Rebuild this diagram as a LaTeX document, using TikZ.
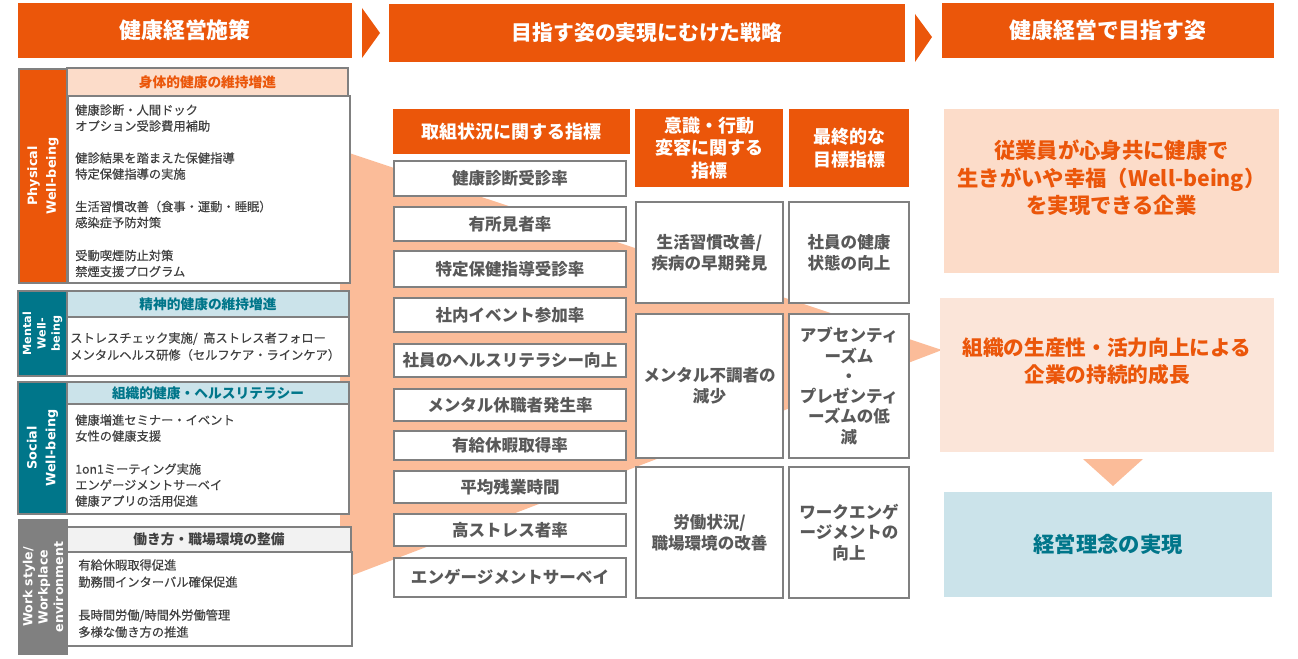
\documentclass[tikz,border=0pt]{standalone}
\usepackage{fontspec}
\setmainfont{Noto Sans CJK JP}
\newfontfamily\jpm{Noto Sans CJK JP}[FakeBold=0.35]
\newfontfamily\lat{DejaVu Sans}
\definecolor{org}{RGB}{235,86,10}
\definecolor{salmon}{RGB}{251,188,153}
\definecolor{peachA}{RGB}{252,220,201}
\definecolor{peachB}{RGB}{251,229,217}
\definecolor{lblue}{RGB}{203,227,234}
\definecolor{tealc}{RGB}{0,118,138}
\definecolor{gbord}{RGB}{128,128,128}
\definecolor{txt}{RGB}{64,64,64}
\definecolor{itxt}{RGB}{89,89,89}
\definecolor{hdrg}{RGB}{242,242,242}
\newcommand\mybox[7]{\node[#1, minimum width={(#5-#3)*0.75pt}, minimum height={(#6-#4)*0.75pt}, anchor=center] (#2) at ({(#3+#5)/2},{(#4+#6)/2}) {#7};}
\tikzset{
  bx/.style={inner sep=0pt, outer sep=0pt, align=center},
  hdr/.style={bx, fill=org, text=white, font=\fontsize{16.4}{19}\selectfont\bfseries},
  ihdr/.style={bx, fill=org, text=white, font=\fontsize{13.5}{16.9}\selectfont\bfseries},
  ind/.style={bx, draw=gbord, line width=2pt, fill=white, text=itxt, font=\fontsize{12.4}{15.6}\selectfont\bfseries},
  strip/.style={bx, draw=gbord, line width=0.9pt},
  striplbl/.style={rotate=90, inner sep=0pt, align=center, text=white, font={\lat\bfseries\fontsize{9.6}{14.2}\selectfont}},
  lhdr/.style={bx, draw=gbord, line width=0.9pt, font=\fontsize{10.3}{12}\selectfont\bfseries},
  lbody/.style={bx, draw=gbord, line width=0.9pt, fill=white},
  ltxt/.style={inner sep=0pt, anchor=west, align=left, text=txt, font=\jpm\fontsize{9.2}{12}\selectfont},
  rbox/.style={bx, draw=none},
  rtxt/.style={inner sep=0pt, align=center, font=\fontsize{16}{20.6}\selectfont\bfseries},
}
\begin{document}
\begin{tikzpicture}[x=0.75pt,y=-0.75pt]
\useasboundingbox (0,0) rectangle (1298,659);

% funnel background
\fill[salmon] (340,150) -- (942,350) -- (340,580) -- cycle;

% top headers
\mybox{hdr}{h1}{18}{3}{352}{58}{健康経営施策}
\mybox{hdr, font=\fontsize{15.6}{19}\selectfont\bfseries}{h2}{389}{4}{905}{62}{目指す姿の実現にむけた戦略}
\mybox{hdr}{h3}{942}{3}{1274}{58}{健康経営で目指す姿}
\fill[org] (362,8) -- (380,33) -- (362,58) -- cycle;
\fill[org] (915,14) -- (932,37) -- (915,62) -- cycle;

% ---- left column: Physical
\mybox{strip, fill=org}{ps}{19}{69}{67}{283}{}
\node[striplbl] (psl) at (ps.center) {Physical\\Well-being};
\mybox{lhdr, fill=peachA, text=org}{ph}{67}{68}{348}{96}{身体的健康の維持増進}
\mybox{lbody}{pb}{68}{96}{350}{283}{}
\node[ltxt] (pt1) at (75,118) {健康診断・人間ドック\\オプション受診費用補助};
\node[ltxt] (pt2) at (75,166) {健診結果を踏まえた保健指導\\特定保健指導の実施};
\node[ltxt] (pt3) at (75,214.5) {生活習慣改善（食事・運動・睡眠）\\感染症予防対策};
\node[ltxt] (pt4) at (75,263.5) {受動喫煙防止対策\\禁煙支援プログラム};

% ---- Mental
\mybox{strip, fill=tealc}{ms}{18}{291}{67}{376}{}
\node[striplbl, font={\lat\bfseries\fontsize{8.4}{10.8}\selectfont}] (msl) at (ms.center) {Mental\\Well-\\being};
\mybox{lhdr, fill=lblue, text=tealc}{mh}{67}{291}{349}{317}{精神的健康の維持増進}
\mybox{lbody}{mb}{67}{317}{349}{376}{}
\node[ltxt, font=\jpm\fontsize{9.2}{12.75}\selectfont] (mt1) at (70,346.5) {ストレスチェック実施/\ \ 高ストレス者フォロー\\メンタルヘルス研修（セルフケア・ラインケア）};

% ---- Social
\mybox{strip, fill=tealc}{ss}{18}{382}{67}{514}{}
\node[striplbl] (ssl) at (ss.center) {Social\\Well-being};
\mybox{lhdr, fill=lblue, text=tealc}{sh}{67}{382}{349}{404}{組織的健康・ヘルスリテラシー}
\mybox{lbody}{sb}{67}{404}{349}{514}{}
\node[ltxt] (st1) at (75,428) {健康増進セミナー・イベント\\女性の健康支援};
\node[ltxt] (st2) at (75,485) {1on1ミーティング実施\\エンゲージメントサーベイ\\健康アプリの活用促進};

% ---- Work style
\mybox{strip, fill=gbord}{ws}{19}{520}{67}{654}{}
\node[striplbl, font={\lat\bfseries\fontsize{9.4}{11.5}\selectfont}] (wsl) at (ws.center) {Work style/\\Workplace\\environment};
\mybox{lhdr, fill=hdrg, text=txt}{wh}{67}{527}{351}{552}{働き方・職場環境の整備}
\mybox{lbody}{wb}{67}{552}{352}{646}{}
\node[ltxt, font=\jpm\fontsize{9.2}{12.75}\selectfont] (wt1) at (78,573.5) {有給休暇取得促進\\勤務間インターバル確保促進};
\node[ltxt, font=\jpm\fontsize{9.2}{12.75}\selectfont] (wt2) at (78,623.5) {長時間労働/時間外労働管理\\多様な働き方の推進};

% ---- middle column 1
\mybox{ihdr}{ih1}{393}{109}{630}{154}{取組状況に関する指標}
\mybox{ind}{i1}{394}{161}{626}{196}{健康診断受診率}
\mybox{ind}{i2}{394}{207}{626}{241}{有所見者率}
\mybox{ind}{i3}{394}{251}{626}{287}{特定保健指導受診率}
\mybox{ind}{i4}{394}{298}{626}{332}{社内イベント参加率}
\mybox{ind}{i5}{394}{344}{626}{377}{社員のヘルスリテラシー向上}
\mybox{ind}{i6}{394}{389}{626}{421}{メンタル休職者発生率}
\mybox{ind}{i7}{394}{431}{626}{460}{有給休暇取得率}
\mybox{ind}{i8}{394}{471}{626}{503}{平均残業時間}
\mybox{ind}{i9}{394}{514}{626}{546}{高ストレス者率}
\mybox{ind}{i10}{394}{558}{626}{597}{エンゲージメントサーベイ}

% ---- middle columns 2 and 3
\mybox{ihdr}{ih2}{635}{109}{783}{187}{意識・行動\\変容に関する\\指標}
\mybox{ihdr}{ih3}{789}{109}{909}{187}{最終的な\\目標指標}
\mybox{ind, font=\fontsize{12.4}{15.5}\selectfont\bfseries}{ca}{636}{202}{783}{303}{生活習慣改善/\\疾病の早期発見}
\mybox{ind, font=\fontsize{12.4}{15.5}\selectfont\bfseries}{cb}{636}{314}{783}{458}{メンタル不調者の\\減少}
\mybox{ind, font=\fontsize{12.4}{15.5}\selectfont\bfseries}{cc}{636}{467}{783}{598}{労働状況/\\職場環境の改善}
\mybox{ind, font=\fontsize{12.4}{15.5}\selectfont\bfseries}{cd}{789}{202}{909}{303}{社員の健康\\状態の向上}
\mybox{ind, font=\fontsize{12.4}{15.2}\selectfont\bfseries}{ce}{789}{314}{909}{458}{アブセンティ\\ーズム\\・\\プレゼンティ\\ーズムの低\\減}
\mybox{ind, font=\fontsize{12.4}{15.2}\selectfont\bfseries}{cf}{789}{467}{909}{598}{ワークエンゲ\\ージメントの\\向上}

% ---- right column
\mybox{rbox, fill=peachA}{r1}{944}{109}{1279}{273}{}
\node[rtxt, text=org] (r1t) at (1111.5,178) {従業員が心身共に健康で\\生きがいや幸福（Well-being）\\を実現できる企業};
\mybox{rbox, fill=peachB}{r2}{940}{298}{1274}{452}{}
\node[rtxt, text=org, font=\fontsize{15.5}{20.3}\selectfont\bfseries] (r2t) at (1107,361.5) {組織の生産性・活力向上による\\企業の持続的成長};
\fill[salmon] (1083,459) -- (1143,459) -- (1113,486) -- cycle;
\mybox{rbox, fill=lblue, text=tealc, font=\fontsize{16}{20}\selectfont\bfseries}{r3}{944}{492}{1272}{597}{経営理念の実現}
\end{tikzpicture}
\end{document}
